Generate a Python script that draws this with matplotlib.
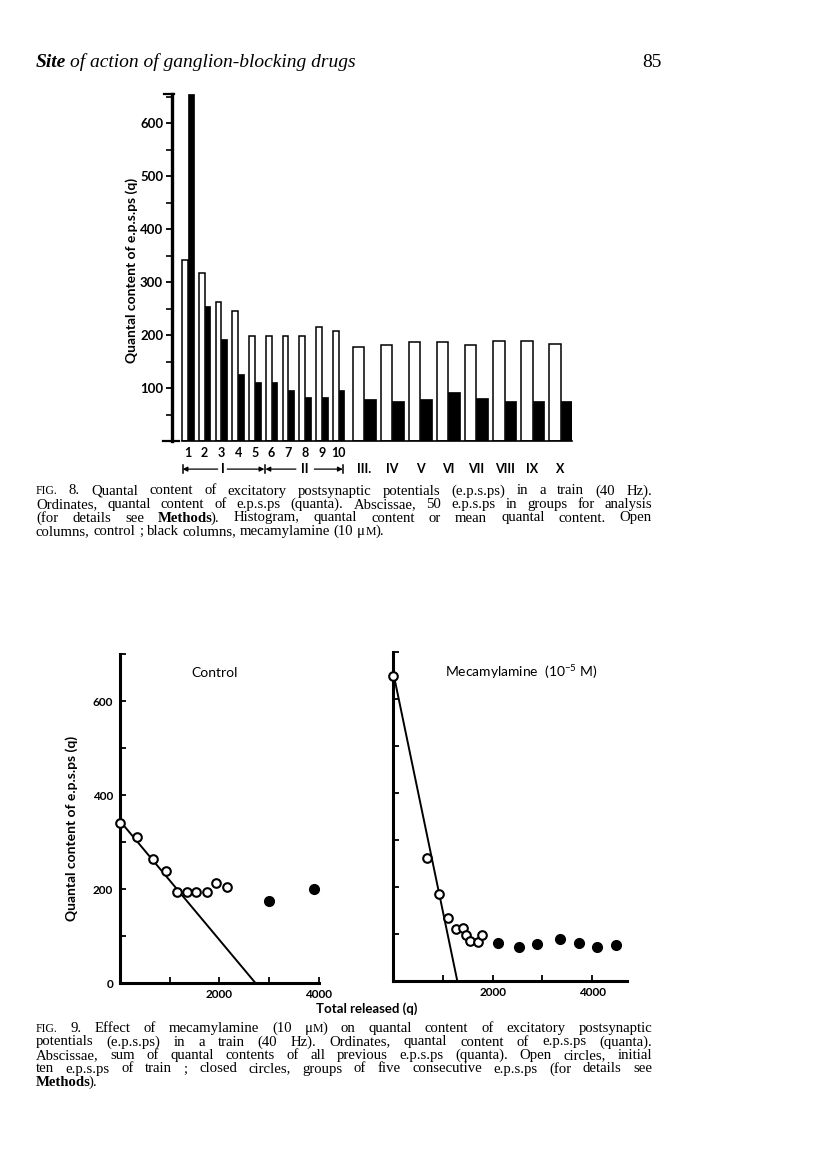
import matplotlib
matplotlib.use("Agg")
import matplotlib.pyplot as plt
import numpy as np
from matplotlib.transforms import blended_transform_factory

# ---------------- Data: Fig. 8 (histogram) ----------------
fig8_single_labels = ['1', '2', '3', '4', '5', '6', '7', '8', '9', '10']
fig8_group_labels = ['III.', 'IV', 'V', 'VI', 'VII', 'VIII', 'IX', 'X']
fig8_control_single = [342, 318, 263, 246, 198, 198, 199, 198, 216, 208]
fig8_mecam_single = [655, 255, 193, 127, 112, 112, 97, 83, 83, 97]
fig8_control_group = [177, 181, 187, 187, 182, 189, 188, 184]
fig8_mecam_group = [80, 75, 79, 92, 82, 76, 76, 76]
fig8_yticks = [100, 200, 300, 400, 500, 600]

# ---------------- Data: Fig. 9 (cumulative plots) ----------------
ctrl_open_x = [0, 349, 671, 926, 1154, 1349, 1530, 1752, 1926, 2148]
ctrl_open_y = [341, 312, 264, 239, 195, 195, 193, 193, 214, 205]
ctrl_closed_x = [3000, 3906]
ctrl_closed_y = [175, 200]
ctrl_line_x = [0, 2730]
ctrl_line_y = [345, 0]

mec_open_x = [0, 672, 920, 1107, 1262, 1408, 1463, 1543, 1698, 1785]
mec_open_y = [649, 262, 184, 133, 110, 113, 98, 85, 82, 98]
mec_closed_x = [2113, 2535, 2891, 3354, 3742, 4105, 4481]
mec_closed_y = [81, 72, 79, 89, 81, 73, 76]
mec_line_x = [0, 1288]
mec_line_y = [655, 0]

fig9_yticks = [0, 100, 200, 300, 400, 500, 600, 700]
fig9_ylabels = ['0', '', '200', '', '400', '', '600', '']
fig9_xticks_left = [1000, 2000, 3000, 4000]
fig9_xticks_right = [1000, 2000, 3000, 4000]
fig9_xlabels = ['', '2000', '', '4000']

header_bold = "Site"
header_rest = "of action of ganglion-blocking drugs"
header_right = "85"

cap8 = [
    "^FIG.^ 8. Quantal content of excitatory postsynaptic potentials (e.p.s.ps) in a train (40 Hz).",
    "Ordinates, quantal content of e.p.s.ps (quanta). Abscissae, 50 e.p.s.ps in groups for analysis",
    "(for details see *Methods*). Histogram, quantal content or mean quantal content. Open",
    "columns, control ; black columns, mecamylamine (10 \u03bc^M^).",
]
cap9 = [
    "^FIG.^ 9. Effect of mecamylamine (10 \u03bc^M^) on quantal content of excitatory postsynaptic",
    "potentials (e.p.s.ps) in a train (40 Hz). Ordinates, quantal content of e.p.s.ps (quanta).",
    "Abscissae, sum of quantal contents of all previous e.p.s.ps (quanta). Open circles, initial",
    "ten e.p.s.ps of train ; closed circles, groups of five consecutive e.p.s.ps (for details see",
    "*Methods*).",
]

# ---------------- Styling ----------------
plt.rcParams['font.family'] = ['Lato', 'DejaVu Sans']
plt.rcParams['mathtext.default'] = 'regular'
W, H = 816, 1175
fig = plt.figure(figsize=(W / 100, H / 100), dpi=100)
fig.patch.set_facecolor('white')
renderer = fig.canvas.get_renderer()


def rect(x0, y_top, x1, y_bot):
    return [x0 / W, 1 - y_bot / H, (x1 - x0) / W, (y_bot - y_top) / H]


def fx(px):
    return px / W


def fy(py):
    return 1 - py / H


SERIF = ['Liberation Serif', 'DejaVu Serif']

# ---------------- Header ----------------
t_site = fig.text(fx(36), fy(67), header_bold, fontsize=14, family=SERIF, style='italic',
                  fontweight='bold', va='baseline', ha='left')
w_site = t_site.get_window_extent(renderer).width
fig.text(fx(36 + w_site + 4), fy(67), header_rest, fontsize=14,
         family=SERIF, style='italic', va='baseline', ha='left')
fig.text(fx(662), fy(67), header_right, fontsize=14, family=SERIF,
         va='baseline', ha='right')

# ---------------- Fig. 8 ----------------
ax8 = fig.add_axes(rect(171.5, 94, 572.3, 441))
pair_pos = np.arange(len(fig8_single_labels))
group_pos = 10.54 + 1.674 * np.arange(len(fig8_group_labels))
w1, w2 = 0.34, 0.70
ax8.bar(pair_pos - w1, fig8_control_single, width=w1, align='edge',
        facecolor='white', edgecolor='black', linewidth=1.1)
ax8.bar(pair_pos, fig8_mecam_single, width=w1, align='edge',
        facecolor='black', edgecolor='black', linewidth=0.5)
ax8.bar(group_pos - w2, fig8_control_group, width=w2, align='edge',
        facecolor='white', edgecolor='black', linewidth=1.1)
ax8.bar(group_pos, fig8_mecam_group, width=w2, align='edge',
        facecolor='black', edgecolor='black', linewidth=0.5)
ax8.set_xlim(-0.98, group_pos[-1] + w2)
ax8.set_ylim(0, 655)
for s in ['top', 'right']:
    ax8.spines[s].set_visible(False)
ax8.spines['left'].set_linewidth(2.4)
ax8.spines['bottom'].set_linewidth(1.2)
ax8.spines['bottom'].set_bounds(-0.34, group_pos[-1] + w2)
ax8.set_yticks(fig8_yticks)
ax8.set_yticklabels([str(v) for v in fig8_yticks], fontsize=9.5, fontweight='bold')
ax8.set_yticks(np.arange(50, 651, 100), minor=True)
ax8.tick_params(axis='y', which='major', direction='out', length=4.5, width=1.3, pad=1.5)
ax8.tick_params(axis='y', which='minor', direction='out', length=4, width=1.2)
ax8.set_xticks(pair_pos)
ax8.set_xticklabels(fig8_single_labels, fontsize=9, fontweight='bold')
ax8.tick_params(axis='x', length=0, pad=4.5)
# top serif and foot of the y axis
ytr = blended_transform_factory(ax8.transAxes, ax8.transData)
ax8.plot([-0.018, 0.005], [655, 655], color='black', lw=1.6, transform=ytr, clip_on=False)
ax8.plot([-0.02, 0.018], [0, 0], color='black', lw=1.6, transform=ytr, clip_on=False)
fig.text(fx(132), fy(270), "Quantal content of e.p.s.ps (q)", fontsize=10,
         rotation=90, ha='center', va='center', fontweight='bold')

# second row of x labels
tr = blended_transform_factory(ax8.transData, ax8.transAxes)
y2 = -0.081
for lab, p in zip(fig8_group_labels, group_pos):
    ax8.text(p, y2, lab, transform=tr, ha='center', va='center', fontsize=9,
             fontweight='bold', clip_on=False)
ax8.text(2.1, y2, 'I', transform=tr, ha='center', va='center', fontsize=9,
         fontweight='bold', clip_on=False)
ax8.text(6.99, y2, 'II', transform=tr, ha='center', va='center', fontsize=9,
         fontweight='bold', clip_on=False)
arrows = [(1.78, -0.32), (2.35, 4.57), (6.45, 4.63), (7.55, 9.25)]
for a, b in arrows:
    ax8.annotate('', xy=(b, y2), xytext=(a, y2), xycoords=tr, textcoords=tr,
                 arrowprops=dict(arrowstyle='-|>', lw=0.9, color='black',
                                 mutation_scale=7, shrinkA=0, shrinkB=0),
                 annotation_clip=False)
for bx in [-0.32, 4.6, 9.25]:
    ax8.plot([bx, bx], [y2 - 0.012, y2 + 0.012], color='black', lw=1.1,
             transform=tr, clip_on=False)

# ---------------- Fig. 9 ----------------
sx = 0.0497   # px per quantum
sy = 0.4705   # px per quantum (vertical)
axL = fig.add_axes(rect(120, 983.3 - 700 * sy, 120 + 4000 * sx, 983.3))
axR = fig.add_axes(rect(393.3, 981 - 700 * sy, 393.3 + 4700 * sx, 981))

for ax in (axL, axR):
    for s in ['top', 'right']:
        ax.spines[s].set_visible(False)
    ax.spines['left'].set_linewidth(2.2)
    ax.spines['bottom'].set_linewidth(2.2)
    ax.set_ylim(0, 700)
    ax.tick_params(direction='in', length=4, width=1.3)
    ax.set_yticks(fig9_yticks)

axL.set_xlim(0, 4000)
axR.set_xlim(0, 4700)
axL.set_yticklabels(fig9_ylabels, fontsize=8.5, fontweight='bold')
axL.tick_params(axis='y', pad=5)
axR.set_yticklabels([''] * len(fig9_yticks))
axL.set_xticks(fig9_xticks_left)
axL.set_xticklabels(fig9_xlabels, fontsize=8.5, fontweight='bold')
axR.set_xticks(fig9_xticks_right)
axR.set_xticklabels(fig9_xlabels, fontsize=8.5, fontweight='bold')
for ax in (axL, axR):
    ax.tick_params(axis='x', pad=4)

axL.plot(ctrl_line_x, ctrl_line_y, color='black', lw=1.4, clip_on=False)
axL.plot(ctrl_open_x, ctrl_open_y, 'o', ms=6.2, mfc='white', mec='black', mew=1.5,
         clip_on=False, zorder=5)
axL.plot(ctrl_closed_x, ctrl_closed_y, 'o', ms=7, mfc='black', mec='black',
         clip_on=False, zorder=5)

axR.plot(mec_line_x, mec_line_y, color='black', lw=1.4, clip_on=False)
axR.plot(mec_open_x, mec_open_y, 'o', ms=6.2, mfc='white', mec='black', mew=1.5,
         clip_on=False, zorder=5)
axR.plot(mec_closed_x, mec_closed_y, 'o', ms=7, mfc='black', mec='black',
         clip_on=False, zorder=5)

fig.text(fx(215), fy(673), "Control", fontsize=10, ha='center', va='center')
fig.text(fx(521), fy(672), "Mecamylamine  (10$^{-5}$ M)", fontsize=10,
         ha='center', va='center')
fig.text(fx(367), fy(1009), "Total released (q)", fontsize=9.5, ha='center',
         va='center', fontweight='bold')
fig.text(fx(72), fy(828), "Quantal content of e.p.s.ps (q)", fontsize=10,
         rotation=90, ha='center', va='center', fontweight='bold')

# ---------------- Captions (justified) ----------------


def parse_word(word):
    segs = []
    bold = small = False
    buf = ''
    for ch in word:
        if ch in '*^':
            if buf:
                segs.append((buf, bold, small))
                buf = ''
            if ch == '*':
                bold = not bold
            else:
                small = not small
        else:
            buf += ch
    if buf:
        segs.append((buf, bold, small))
    return segs


def draw_caption(lines, x0, x1, baselines, size):
    for i, line in enumerate(lines):
        last = i == len(lines) - 1
        words = [parse_word(w) for w in line.split(' ') if w]
        objs = []
        widths = []
        for word in words:
            wo = []
            tot = 0
            for (t, b, s) in word:
                o = fig.text(0, fy(baselines[i]), t, fontsize=size * (0.8 if s else 1.0),
                             fontweight='bold' if b else 'normal', family=SERIF,
                             ha='left', va='baseline')
                w = o.get_window_extent(renderer).width
                if b:
                    w -= 2.0
                wo.append((o, w))
                tot += w
            objs.append(wo)
            widths.append(tot)
        space = size * 100 / 72 * 0.25
        if not last and len(words) > 1:
            gap = ((x1 - x0) - sum(widths)) / (len(words) - 1)
        else:
            gap = space
        x = x0
        for wo in objs:
            for o, w in wo:
                o.set_x(fx(x))
                x += w
            x += gap


draw_caption(cap8, 36, 652, [494.5, 508, 521.5, 535], 10.6)
draw_caption(cap9, 36, 652, [1032, 1045.5, 1059, 1072.5, 1086], 10.6)

fig.savefig('out.png', dpi=100, facecolor='white')
